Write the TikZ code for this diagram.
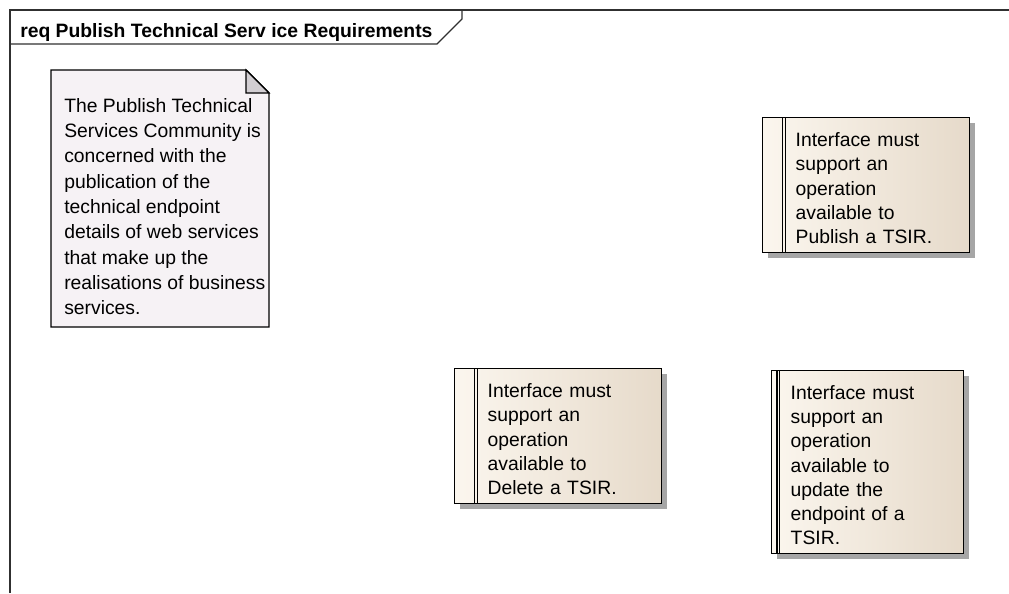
\documentclass[tikz,border=0pt]{standalone}
\usepackage{fontspec}
\setmainfont{Liberation Sans}
\usetikzlibrary{shadows, positioning, calc}

\definecolor{noteFill}{HTML}{F6F2F5}
\definecolor{foldFill}{HTML}{D2CED2}
\definecolor{reqLeft}{HTML}{FBF6EE}
\definecolor{reqRight}{HTML}{E6DACA}
\definecolor{frameCol}{HTML}{303030}

\def\reqbar{15pt}

\tikzset{
	barpos/.code={\def\reqbar{#1}},
	reqbox/.style={draw=black, line width=1.1pt, left color=reqLeft, right color=reqRight,
		drop shadow={shadow xshift=3.75pt, shadow yshift=-3.75pt, fill=black!35, opacity=1},
		anchor=north west, inner sep=0pt, align=left,
		font=\fontsize{14.5}{18.2}\selectfont,
		execute at begin node={\rule{0pt}{15pt}},
		path picture={
			\draw[line width=0.9pt] ([xshift=\reqbar]path picture bounding box.north west) -- ([xshift=\reqbar]path picture bounding box.south west);
			\draw[line width=0.9pt] ([xshift=\reqbar+2pt]path picture bounding box.north west) -- ([xshift=\reqbar+2pt]path picture bounding box.south west);
		}},
	notetext/.style={anchor=north west, inner sep=0pt, align=left, font=\fontsize{14.5}{19}\selectfont},
}

\begin{document}
\begin{tikzpicture}[x=0.75pt, y=-0.75pt]
	\useasboundingbox (0,0) rectangle (1009,593);
	
	%// diagram frame and name tab
	\draw[frameCol, line width=0.9pt] (10,593) -- (10,10) -- (1009,10);
	\draw[frameCol, line width=0.9pt] (10,44) -- (437,44) -- (462,19) -- (462,10);
	\node[anchor=base west, inner sep=0pt, font=\fontsize{14.5}{18}\selectfont\bfseries] (title) at (20,37) {req Publish Technical Serv ice Requirements};
	
	%// note with folded corner
	\draw[line width=1.1pt, fill=noteFill] (51,70) -- (246,70) -- (269,93) -- (269,327) -- (51,327) -- cycle;
	\draw[line width=0.8pt, fill=foldFill] (246,70) -- (246,93) -- (269,93) -- cycle;
	\node[notetext] (note) at (64,98) {The Publish Technical\\ Services Community is\\ concerned with the\\ publication of the\\ technical endpoint\\ details of web services\\ that make up the\\ realisations of business\\ services.};
	
	%// requirements
	\node[reqbox, minimum width=207*0.75pt, minimum height=135*0.75pt, text width=141*0.75pt] (publish) at (762,117)
		{Interface must\\ support an\\ operation\\ available to\\ Publish a TSIR.};
	\node[reqbox, minimum width=207*0.75pt, minimum height=135*0.75pt, text width=141*0.75pt] (delete) at (454,368)
		{Interface must\\ support an\\ operation\\ available to\\ Delete a TSIR.};
	\node[reqbox, barpos=4pt, minimum width=192*0.75pt, minimum height=183*0.75pt, text width=154*0.75pt] (update) at (771,370)
		{Interface must\\ support an\\ operation\\ available to\\ update the\\ endpoint of a\\ TSIR.};
	
\end{tikzpicture}
\end{document}
